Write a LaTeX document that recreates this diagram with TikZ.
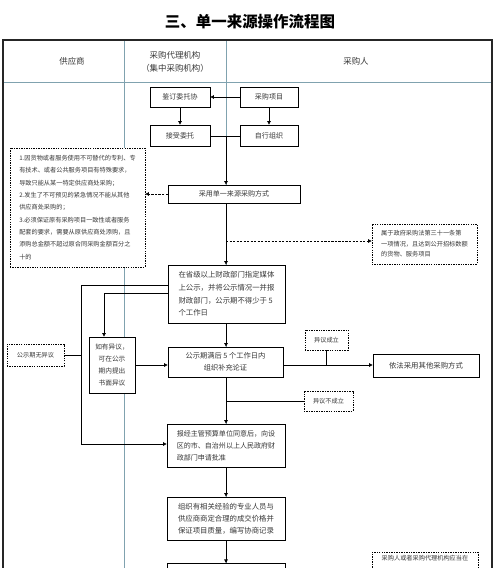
\documentclass[tikz,border=0pt]{standalone}
\usepackage{fontspec}
\setmainfont{Noto Sans CJK SC}
\usetikzlibrary{arrows.meta,positioning}
\definecolor{lane}{RGB}{128,162,175}
\definecolor{txt}{RGB}{55,55,55}
\tikzset{
    box/.style={draw=black, line width=1.1pt, fill=white, text=txt, inner sep=2pt,
        align=center, font=\fontsize{10}{17}\selectfont},
    dbox/.style={box, dash pattern=on 2pt off 1.5pt},
    smalltext/.style={font=\fontsize{8.8}{15}\selectfont},
    flow/.style={line width=1pt, -{Triangle[length=5pt,width=5pt]}},
    dflow/.style={flow, dash pattern=on 3pt off 2pt},
    link/.style={line width=1pt},
    head/.style={text=txt, align=center, font=\fontsize{12}{19}\selectfont},
}

\begin{document}
\begin{tikzpicture}[x=0.05cm, y=-0.05cm]
    \useasboundingbox (0,0) rectangle (500,568);
    \clip (0,0) rectangle (500,568);

    % title and swim lanes
    \node[font=\fontsize{22}{24}\selectfont\bfseries] (title) at (250,22) {三、单一来源操作流程图};
    \draw[lane, line width=0.9pt] (124,40) -- (124,600);
    \draw[lane, line width=0.9pt] (226,40) -- (226,600);
    \draw[lane, line width=0.9pt] (3,82) -- (492,82);
    \draw[black!85, line width=1.6pt] (3,600) -- (3,40) -- (492,40) -- (492,600);
    \node[head] (supplier) at (72,61) {供应商};
    \node[head] (agency)   at (175,62) {采购代理机构\\（集中采购机构）};
    \node[head] (buyer)    at (356,61) {采购人};

    % boxes
    \node[box, minimum width=3cm, minimum height=1cm] (sign) at (180,97) {鉴订委托协};
    \node[box, minimum width=2.9cm, minimum height=1cm] (proj) at (269,97) {采购项目};
    \node[box, minimum width=3cm, minimum height=1.05cm] (accept) at (180,135.5) {接受委托};
    \node[box, minimum width=2.9cm, minimum height=1.05cm] (self) at (269,135.5) {自行组织};
    \node[box, minimum width=6.6cm, minimum height=0.9cm] (single) at (234,194) {采用单一来源采购方式};
    \node[dbox, smalltext, align=left, minimum width=6.75cm, minimum height=5.95cm,
        font=\fontsize{8.8}{17.6}\selectfont] (cond) at (77.5,207.5)
        {1.因货物或者服务使用不可替代的专利、专\\
         有技术、或者公共服务项目有特殊要求，\\
         导致只能从某一特定供应商处采购；\\
         2.发生了不可预见的紧急情况不能从其他\\
         供应商处采购的；\\
         3.必须保证原有采购项目一致性或者服务\\
         配套的要求，需要从原供应商处添购，且\\
         添购总金额不超过原合同采购金额百分之\\
         十的};
    \node[dbox, smalltext, align=left, minimum width=5.25cm, minimum height=2cm] (law) at (424.5,244)
        {属于政府采购法第三十一条第\\一项情况，且达到公开招标数额\\的货物、服务项目};
    \node[box, align=left, minimum width=5.85cm, minimum height=2.9cm,
        font=\fontsize{10.5}{18}\selectfont] (publish) at (226.5,294)
        {在省级以上财政部门指定媒体\\上公示，并将公示情况一并报\\财政部门，公示期不得少于 5\\个工作日};
    \node[box, minimum width=2.3cm, minimum height=2.8cm,
        font=\fontsize{9.5}{17}\selectfont] (objection) at (112,365)
        {如有异议，\\可在公示\\期内提出\\书面异议};
    \node[dbox, smalltext, minimum width=2.85cm, minimum height=1.1cm] (noobj) at (35.5,355) {公示期无异议};
    \node[box, minimum width=5.75cm, minimum height=1.5cm,
        font=\fontsize{10.3}{17}\selectfont] (demo) at (225.5,362)
        {公示期满后 5 个工作日内\\组织补充论证};
    \node[dbox, smalltext, minimum width=2.15cm, minimum height=1cm] (ok) at (326.5,340) {异议成立};
    \node[box, minimum width=5.3cm, minimum height=1.15cm,
        font=\fontsize{10.5}{17}\selectfont] (other) at (426,365.5) {依法采用其他采购方式};
    \node[dbox, smalltext, minimum width=2.45cm, minimum height=1cm] (notok) at (328.5,401) {异议不成立};
    \node[box, align=left, minimum width=5.9cm, minimum height=2.15cm] (approve) at (226,445.5)
        {报经主管预算单位同意后，向设\\区的市、自治州以上人民政府财\\政部门申请批准};
    \node[box, minimum width=5.9cm, minimum height=2.15cm,
        font=\fontsize{10.5}{17}\selectfont] (negotiate) at (226,518.5)
        {组织有相关经验的专业人员与\\供应商商定合理的成交价格并\\保证项目质量，编写协商记录};
    \node[box, anchor=north, minimum width=5.9cm, minimum height=2cm] (next) at (226,563) {};
    \node[dbox, anchor=north, minimum width=5.3cm, minimum height=2cm,
        label={[smalltext, text=txt, anchor=north, yshift=-0.05cm]north:采购人或者采购代理机构应当在}] (note) at (425,552) {};

    % helper points
    \coordinate (join)  at (226,136);
    \coordinate (fork)  at (226,241);
    \coordinate (loopT) at (81,285);
    \coordinate (loopB) at (81,444);
    \coordinate (objT)  at (104,293);
    \coordinate (pass)  at (326.5,365);
    \coordinate (fail)  at (226,401);

    % connectors
    \draw[flow] (proj.west) -- (sign.east);
    \draw[flow] (sign) -- (accept);
    \draw[flow] (proj) -- (self);
    \draw[link] (join -| accept.east) -- (join -| self.west);
    \draw[flow] (join) -- (join |- single.north);
    \draw[dflow] (single.west) -- (single.west -| cond.east);
    \draw[flow] (fork |- single.south) -- (fork |- publish.north);
    \draw[dflow] (fork) -- (fork -| law.west);
    \draw[flow] (fork |- publish.south) -- (fork |- demo.north);
    \draw[flow] (loopT -| publish.west) -- (loopT) -- (loopB) -- (loopB -| approve.west);
    \draw[link] (noobj.east) -- (noobj.east -| loopT);
    \draw[flow] (objT -| publish.west) -- (objT) -- (objT |- objection.north);
    \draw[flow] (objection.east) -- (objection.east -| demo.west);
    \draw[flow] (pass -| demo.east) -- (pass -| other.west);
    \draw[link] (ok.south) -- (pass);
    \draw[flow] (fork |- demo.south) -- (fork |- approve.north);
    \draw[link] (fail) -- (fail -| notok.west);
    \draw[flow] (approve) -- (negotiate);
    \draw[flow] (negotiate) -- (next);
\end{tikzpicture}
\end{document}
